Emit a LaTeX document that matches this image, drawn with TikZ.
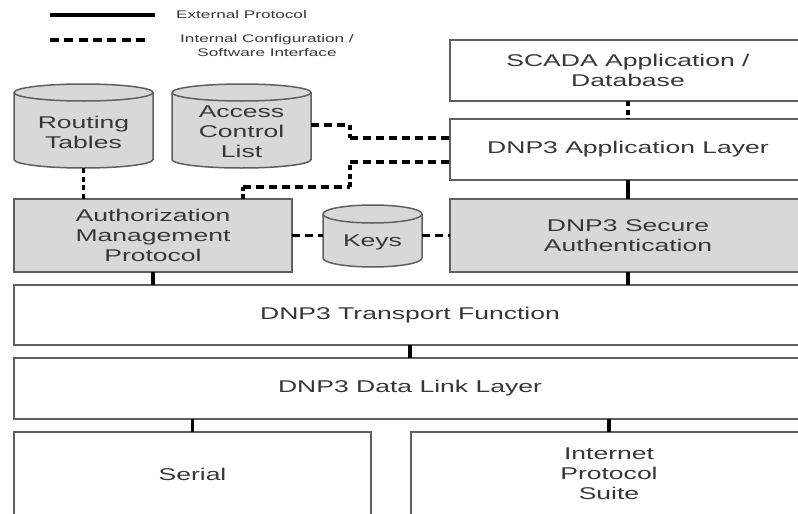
\documentclass[tikz,border=0pt]{standalone}
\usepackage{fontspec}
\setmainfont{Liberation Sans}
\newfontfamily\wide[FakeStretch=1.56]{Liberation Sans}
\definecolor{boxfill}{RGB}{216,216,216}
\definecolor{edge}{RGB}{95,95,95}
\definecolor{txt}{RGB}{55,55,55}
\begin{document}
\begin{tikzpicture}[x=1pt,y=-1pt,
  layer/.style={draw=edge, line width=1.5pt, rectangle, inner sep=0pt, outer sep=0pt,
    text=txt, font=\wide\fontsize{17}{20}\selectfont, align=center},
  shaded/.style={layer, fill=boxfill},
  cyltext/.style={rectangle, inner sep=0pt, outer sep=0pt, text=txt,
    font=\wide\fontsize{17}{20}\selectfont, align=center},
  cylbody/.style={fill=boxfill, draw=edge, line width=1.5pt},
  legtext/.style={text=txt, font=\wide\fontsize{11}{14}\selectfont, align=center, inner sep=0pt},
  ext/.style={line width=3.5pt, black},
  intl/.style={line width=3.5pt, black, dash pattern=on 8pt off 5pt},
  intv/.style={line width=3.5pt, black, dash pattern=on 5pt off 3.5pt},
  legdash/.style={line width=3.5pt, black, dash pattern=on 9pt off 5.3pt}
]
\useasboundingbox (0,0) rectangle (798,514);
\fill[white] (0,0) rectangle (798,514);
\clip (0,0) rectangle (798,514);

% legend
\coordinate (l1a) at (50,15);
\coordinate (l1b) at (155,15);
\coordinate (l2a) at (50,40);
\coordinate (l2b) at (150,40);
\draw[ext] (l1a) -- (l1b);
\draw[legdash] (l2a) -- (l2b);
\node[legtext, anchor=west] (lext) at (176,15) {External Protocol};
\node[legtext] (lint) at (267,46) {Internal Configuration /\\Software Interface};

% cylinders
\path[cylbody] (14,92.5) -- (14,159.5) arc[start angle=180, end angle=0, x radius=69.5, y radius=8.5]
  -- (153,92.5) arc[start angle=0, end angle=-180, x radius=69.5, y radius=8.5] -- cycle;
\draw[edge, line width=1.5pt] (14,92.5) arc[start angle=180, end angle=0, x radius=69.5, y radius=8.5];
\path[cylbody] (172,92.5) -- (172,159.5) arc[start angle=180, end angle=0, x radius=69.5, y radius=8.5]
  -- (311,92.5) arc[start angle=0, end angle=-180, x radius=69.5, y radius=8.5] -- cycle;
\draw[edge, line width=1.5pt] (172,92.5) arc[start angle=180, end angle=0, x radius=69.5, y radius=8.5];
\path[cylbody] (323,214) -- (323,258) arc[start angle=180, end angle=0, x radius=49.5, y radius=9]
  -- (422,214) arc[start angle=0, end angle=-180, x radius=49.5, y radius=9] -- cycle;
\draw[edge, line width=1.5pt] (323,214) arc[start angle=180, end angle=0, x radius=49.5, y radius=9];

\node[cyltext, minimum width=139pt, minimum height=72pt] (routing) at (83.5,132) {Routing\\Tables};
\node[cyltext, minimum width=139pt, minimum height=72pt] (acl) at (241.5,132) {Access\\Control\\List};
\node[cyltext, minimum width=99pt, minimum height=50pt] (keys) at (372.5,242) {Keys};

% boxes
\node[layer, minimum width=356pt, minimum height=61pt] (scada) at (628,70.5) {SCADA Application /\\Database};
\node[layer, minimum width=356pt, minimum height=61pt] (app) at (628,149.5) {DNP3 Application Layer};
\node[shaded, minimum width=356pt, minimum height=73pt] (secure) at (628,235.5) {DNP3 Secure\\Authentication};
\node[shaded, minimum width=278pt, minimum height=73pt] (amp) at (153,235.5) {Authorization\\Management\\Protocol};
\node[layer, minimum width=792pt, minimum height=60pt] (transport) at (410,315) {DNP3 Transport Function};
\node[layer, minimum width=792pt, minimum height=61pt] (datalink) at (410,388.5) {DNP3 Data Link Layer};
\node[layer, minimum width=357pt, minimum height=84pt] (serial) at (192.5,474) {Serial};
\node[layer, minimum width=396pt, minimum height=84pt] (ip) at (609,474) {Internet\\Protocol\\Suite};

% external protocol connectors
\draw[ext] (app.south) -- (secure.north);
\draw[ext] (secure.south) -- (secure.south |- transport.north);
\draw[ext] (amp.south) -- (amp.south |- transport.north);
\draw[ext] (transport.south) -- (datalink.north);
\draw[ext] (serial.north |- datalink.south) -- (serial.north);
\draw[ext] (ip.north |- datalink.south) -- (ip.north);

% internal interfaces
\draw[intv] (scada.south) -- (app.north);
\draw[intv] (routing.south) -- (routing.south |- amp.north);
\coordinate (a1) at (350,125);
\coordinate (a2) at (350,138);
\draw[intl] (acl.east |- a1) -- (a1);
\draw[intv] (a1) -- (a2);
\draw[intl] (a2) -- (app.west |- a2);
\coordinate (b1) at (243,187);
\coordinate (b2) at (350,187);
\coordinate (b3) at (350,162);
\draw[intv] (amp.north -| b1) -- (b1);
\draw[intl] (b1) -- (b2);
\draw[intv] (b2) -- (b3);
\draw[intl] (b3) -- (app.west |- b3);
\draw[intl] (amp.east) -- (amp.east -| keys.west);
\draw[intl] (keys.east |- secure.west) -- (secure.west);
\end{tikzpicture}
\end{document}
